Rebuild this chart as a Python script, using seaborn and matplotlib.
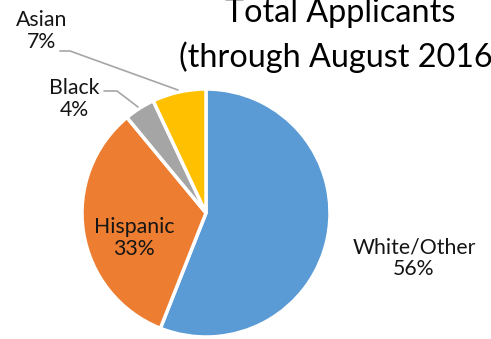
import matplotlib
matplotlib.use("Agg")
import matplotlib.pyplot as plt
import seaborn as sns
import numpy as np

categories = ["White/Other", "Hispanic", "Black", "Asian"]
values = [56, 33, 4, 7]
pct_labels = ["56%", "33%", "4%", "7%"]
colors = ["#5B9BD5", "#ED7D31", "#A5A5A5", "#FFC000"]
title_lines = ["Total Applicants", "(through August 2016)"]

sns.set_style("white")
plt.rcParams["font.family"] = ["Lato", "DejaVu Sans"]

W, H = 491, 339
fig = plt.figure(figsize=(W / 100, H / 100), dpi=100)
ax = fig.add_axes([0, 0, 1, 1])

cx, cy, R = 206, 339 - 213, 124
wedges, _ = ax.pie(values, colors=colors, startangle=90, counterclock=False,
                   center=(cx, cy), radius=R,
                   wedgeprops=dict(edgecolor="white", linewidth=2.5))
ax.set_xlim(0, W)
ax.set_ylim(0, H)
ax.set_aspect("equal")
ax.axis("off")

fs = 15.3
tc = "#151515"
ls = 1.12
ax.text(134, 339 - 238, f"{categories[1]}\n{pct_labels[1]}", ha="center", va="center",
        fontsize=fs, color=tc, linespacing=ls)
ax.text(414, 339 - 258, f"{categories[0]}\n{pct_labels[0]}", ha="center", va="center",
        fontsize=fs, color=tc, linespacing=ls)
ax.text(74, 339 - 99, f"{categories[2]}\n{pct_labels[2]}", ha="center", va="center",
        fontsize=fs, color=tc, linespacing=ls)
ax.text(42, 339 - 31, f"{categories[3]}\n{pct_labels[3]}", ha="center", va="center",
        fontsize=fs, color=tc, linespacing=ls)

lc = "#A6A6A6"
ax.plot([104, 117, 138], [339 - 91, 339 - 91, 339 - 107], color=lc, lw=1.2)
ax.plot([60, 70, 178], [339 - 51, 339 - 51, 339 - 90], color=lc, lw=1.2)

ax.text(340, 339 - 22, title_lines[0], ha="center", va="baseline", fontsize=23.3, color="black")
ax.text(340, 339 - 67, title_lines[1], ha="center", va="baseline", fontsize=23.3, color="black")

fig.savefig("out.png", dpi=100)
